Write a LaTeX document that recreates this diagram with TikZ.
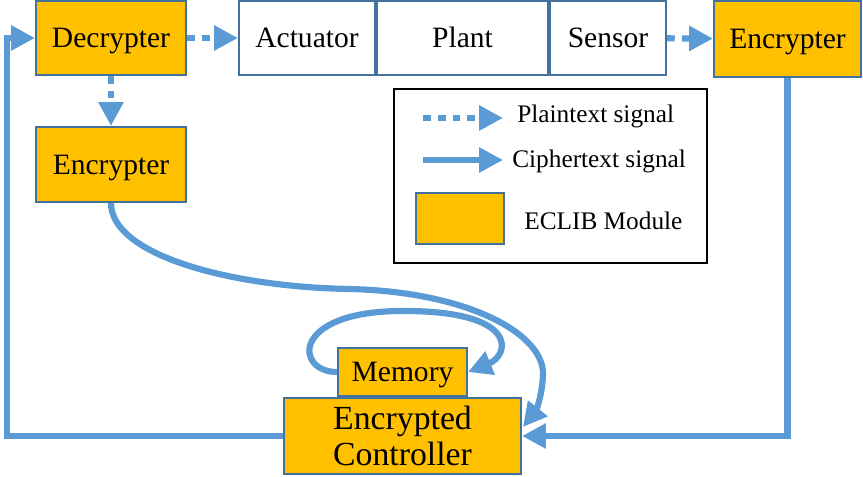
\documentclass[tikz,border=0pt]{standalone}
\usepackage{fontspec}
\setmainfont{Liberation Serif}
\usetikzlibrary{positioning}
\usetikzlibrary{arrows.meta}
\definecolor{eclib}{HTML}{FFC000}
\definecolor{edge}{HTML}{41719C}
\definecolor{sig}{HTML}{5B9BD5}

\begin{document}
\begin{tikzpicture}[x=0.025cm,y=-0.025cm,
  module/.style={draw=edge, fill=eclib, line width=1.4pt, inner sep=0pt, text height=14pt, text depth=0pt, font=\fontsize{21}{23}\selectfont},
  block/.style={draw=edge, fill=white, line width=1.4pt, inner sep=0pt, minimum height=1.85cm, text height=14pt, text depth=0pt, font=\fontsize{21}{23}\selectfont},
  cipher/.style={draw=sig, line width=4.4pt, -{Triangle[length=17pt,width=17pt]}},
  plain/.style={cipher, dash pattern=on 5.5pt off 5pt},
  legtext/.style={font=\fontsize{18}{20}\selectfont, anchor=west, inner sep=0pt}]

 \useasboundingbox (0,0) rectangle (863,477);

 % plant loop on top
 \node[module, minimum width=3.75cm, minimum height=1.85cm] (dec) at (111,38) {Decrypter};
 \node[block, minimum width=3.4cm] (act) at (307,38) {Actuator};
 \node[block, minimum width=4.275cm, right=0pt of act] (plant) {Plant};
 \node[block, minimum width=2.9cm, right=0pt of plant] (sen) {Sensor};
 \node[module, minimum width=3.675cm, minimum height=1.9cm] (encR) at (787.5,39) {Encrypter};
 \node[module, minimum width=3.75cm, minimum height=1.875cm, below=1.25cm of dec] (encL) {Encrypter};

 % controller side
 \node[module, minimum width=5.925cm, minimum height=1.9cm, align=center, text height=, text depth=, font=\fontsize{24}{26}\selectfont] (ctrl) at (402.5,436) {Encrypted\\Controller};
 \node[module, minimum width=3.225cm, minimum height=1.2cm, above=0pt of ctrl] (mem) {Memory};

 % legend
 \node[draw=black, line width=1.8pt, minimum width=7.825cm, minimum height=4.35cm] (leg) at (550.5,176) {};
 \coordinate (p1) at (423,118);
 \coordinate (p2) at (503,118);
 \draw[plain] (p1) -- (p2);
 \node[legtext] (ptxt) at (517,116) {Plaintext signal};
 \coordinate (c1) at (423,160);
 \coordinate (c2) at (503,160);
 \draw[cipher] (c1) -- (c2);
 \node[legtext] (ctxt) at (512,161) {Ciphertext signal};
 \node[module, minimum width=2.2cm, minimum height=1.275cm] (swatch) at (460,218.5) {};
 \node[legtext] (mtxt) at (524,221) {ECLIB Module};

 % plaintext signals
 \draw[plain] (dec) -- (act);
 \draw[plain] (sen) -- (encR);
 \draw[plain] (dec) -- (encL);

 % ciphertext signals
 \draw[cipher] (encR.south) |- (ctrl.east);
 \coordinate (fb) at (7,436);
 \draw[cipher] (ctrl.west) -- (fb) |- (dec.west);
 \coordinate (hit) at (523,427);
 \draw[cipher] (encL.south) .. controls (111,255) and (230,287) .. (350,289)
   .. controls (470,292) and (545,335) .. (543,375)
   .. controls (542,398) and (535,412) .. (hit);
 \draw[cipher] (mem.west) .. controls (295,372) and (290,312) .. (400,311)
   .. controls (520,310) and (510,355) .. (mem.east);

\end{tikzpicture}
\end{document}
